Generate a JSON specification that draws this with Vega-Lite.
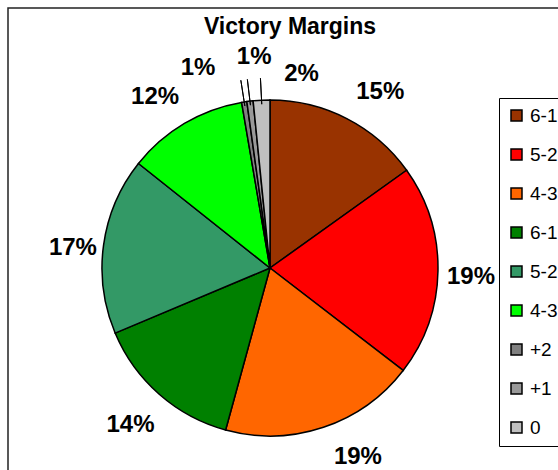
{
  "$schema": "https://vega.github.io/schema/vega-lite/v6.json",
  "autosize": "none",
  "padding": {"left": 8, "top": 8, "right": 0, "bottom": 0},
  "width": 600,
  "height": 520,
  "background": "white",
  "view": {"stroke": "#222222", "strokeWidth": 1.5, "fill": "white"},
  "config": {
    "font": "Liberation Sans"
  },
  "title": {
    "text": "Victory Margins",
    "font": "Liberation Sans",
    "fontSize": 23,
    "fontWeight": "bold",
    "color": "black",
    "anchor": "middle",
    "frame": "group",
    "dx": -18,
    "offset": -31
  },
  "data": {
    "values": [
      {"key": "6-1 a", "pct": 15.1, "label": "15%", "idx": 1},
      {"key": "5-2 a", "pct": 20.3, "label": "19%", "idx": 2},
      {"key": "4-3 a", "pct": 18.8, "label": "19%", "idx": 3},
      {"key": "6-1 b", "pct": 14.4, "label": "14%", "idx": 4},
      {"key": "5-2 b", "pct": 17.0, "label": "17%", "idx": 5},
      {"key": "4-3 b", "pct": 11.6, "label": "12%", "idx": 6},
      {"key": "+2", "pct": 0.5, "label": "1%", "idx": 7},
      {"key": "+1", "pct": 0.6, "label": "1%", "idx": 8},
      {"key": "0", "pct": 1.6, "label": "2%", "idx": 9}
    ]
  },
  "encoding": {
    "theta": {"field": "pct", "type": "quantitative", "stack": true},
    "order": {"field": "idx", "type": "quantitative"}
  },
  "layer": [
    {
      "mark": {"type": "arc", "outerRadius": 168, "stroke": "black", "strokeWidth": 1.5, "x": 262, "y": 260},
      "encoding": {
        "color": {
          "field": "key",
          "type": "nominal",
          "scale": {
            "domain": ["6-1 a", "5-2 a", "4-3 a", "6-1 b", "5-2 b", "4-3 b", "+2", "+1", "0"],
            "range": ["#993300", "#FF0000", "#FF6600", "#008000", "#339966", "#00FF00", "#808080", "#999999", "#C0C0C0"]
          },
          "legend": {
            "title": null,
            "orient": "none",
            "legendX": 491,
            "legendY": 90,
            "strokeColor": "black",
            "fillColor": "white",
            "padding": 8,
            "symbolType": "square",
            "symbolSize": 121,
            "symbolStrokeColor": "black",
            "symbolStrokeWidth": 1.5,
            "symbolOpacity": 1,
            "labelFont": "Liberation Sans",
            "labelFontSize": 19,
            "labelColor": "black",
            "labelOffset": 4,
            "rowPadding": 19,
            "labelExpr": "split(datum.label, ' ')[0]"
          }
        }
      }
    },
    {
      "mark": {"type": "arc", "innerRadius": 164, "outerRadius": 190, "padAngle": 0.2, "stroke": "black", "strokeWidth": 1, "strokeJoin": "bevel", "strokeCap": "butt", "fillOpacity": 0, "x": 262, "y": 260},
      "encoding": {"strokeOpacity": {"condition": {"test": "datum.idx >= 7", "value": 1}, "value": 0}}
    },
    {
      "mark": {"type": "text", "radius": 204, "x": 262, "y": 260, "dx": 17, "dy": 5, "font": "Liberation Sans", "fontSize": 24, "fontWeight": "bold", "color": "black", "align": "center", "baseline": "middle"},
      "encoding": {"text": {"condition": {"test": "datum.idx == 1", "field": "label"}, "value": ""}}
    },
    {
      "mark": {"type": "text", "radius": 204, "x": 262, "y": 260, "dx": -3, "dy": 5, "font": "Liberation Sans", "fontSize": 24, "fontWeight": "bold", "color": "black", "align": "center", "baseline": "middle"},
      "encoding": {"text": {"condition": {"test": "datum.idx == 2", "field": "label"}, "value": ""}}
    },
    {
      "mark": {"type": "text", "radius": 204, "x": 262, "y": 260, "dx": 23, "dy": -4, "font": "Liberation Sans", "fontSize": 24, "fontWeight": "bold", "color": "black", "align": "center", "baseline": "middle"},
      "encoding": {"text": {"condition": {"test": "datum.idx == 3", "field": "label"}, "value": ""}}
    },
    {
      "mark": {"type": "text", "radius": 204, "x": 262, "y": 260, "dx": -5, "dy": 4, "font": "Liberation Sans", "fontSize": 24, "fontWeight": "bold", "color": "black", "align": "center", "baseline": "middle"},
      "encoding": {"text": {"condition": {"test": "datum.idx == 4", "field": "label"}, "value": ""}}
    },
    {
      "mark": {"type": "text", "radius": 204, "x": 262, "y": 260, "dx": 5, "dy": 8, "font": "Liberation Sans", "fontSize": 24, "fontWeight": "bold", "color": "black", "align": "center", "baseline": "middle"},
      "encoding": {"text": {"condition": {"test": "datum.idx == 5", "field": "label"}, "value": ""}}
    },
    {
      "mark": {"type": "text", "radius": 204, "x": 262, "y": 260, "dx": -11, "dy": 5, "font": "Liberation Sans", "fontSize": 24, "fontWeight": "bold", "color": "black", "align": "center", "baseline": "middle"},
      "encoding": {"text": {"condition": {"test": "datum.idx == 6", "field": "label"}, "value": ""}}
    },
    {
      "mark": {"type": "text", "radius": 208, "x": 262, "y": 260, "dx": -40, "dy": 6, "font": "Liberation Sans", "fontSize": 24, "fontWeight": "bold", "color": "black", "align": "center", "baseline": "middle"},
      "encoding": {"text": {"condition": {"test": "datum.idx == 7", "field": "label"}, "value": ""}}
    },
    {
      "mark": {"type": "text", "radius": 208, "x": 262, "y": 260, "dx": 9, "dy": -4, "font": "Liberation Sans", "fontSize": 24, "fontWeight": "bold", "color": "black", "align": "center", "baseline": "middle"},
      "encoding": {"text": {"condition": {"test": "datum.idx == 8", "field": "label"}, "value": ""}}
    },
    {
      "mark": {"type": "text", "radius": 208, "x": 262, "y": 260, "dx": 42, "dy": 14, "font": "Liberation Sans", "fontSize": 24, "fontWeight": "bold", "color": "black", "align": "center", "baseline": "middle"},
      "encoding": {"text": {"condition": {"test": "datum.idx == 9", "field": "label"}, "value": ""}}
    }
  ]
}
